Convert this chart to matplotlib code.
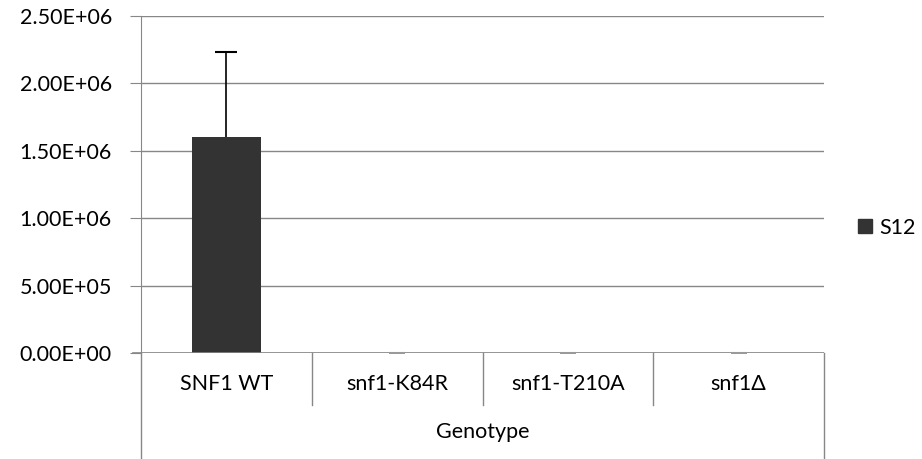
import matplotlib
matplotlib.use("Agg")
import matplotlib.pyplot as plt
from matplotlib.lines import Line2D
import numpy as np

categories = ["SNF1 WT", "snf1-K84R", "snf1-T210A", "snf1\u0394"]
values = [1.60e6, 1000, 1000, 1000]
errors = [0.635e6, 1000, 1000, 1000]
yticks = [0, 0.5e6, 1.0e6, 1.5e6, 2.0e6, 2.5e6]
ytick_labels = ["0.00E+00", "5.00E+05", "1.00E+06", "1.50E+06", "2.00E+06", "2.50E+06"]
series_name = "S12"
axis_title = "Genotype"

plt.rcParams['font.family'] = ['Lato', 'DejaVu Sans']
FS = 15.5
W, H = 922, 459
fig = plt.figure(figsize=(W/100, H/100), dpi=100)
L, R, T, B = 141, 824, 16, 353
ax = fig.add_axes([L/W, 1-B/H, (R-L)/W, (B-T)/H])

grid_c = "#878787"
x = np.arange(len(categories))
ax.bar(x, values, width=0.4, color="#333333", zorder=3)
for i in range(len(categories)):
    col = "black" if i == 0 else "#9a9a9a"
    cs = 8 if i == 0 else 6
    eb = ax.errorbar([x[i]], [values[i]], yerr=[[0], [errors[i]]], fmt='none',
                     ecolor=col, elinewidth=1.2, capsize=cs, capthick=1.5, zorder=6)
    eb[1][0].set_visible(False)
ax.set_xlim(-0.5, len(categories)-0.5)
ax.set_ylim(0, 2.5e6)
ax.set_yticks(yticks)
ax.set_yticklabels(ytick_labels, fontsize=FS)
ax.yaxis.grid(True, color=grid_c, linewidth=1, zorder=0)
for s in ["top", "right", "bottom"]:
    ax.spines[s].set_visible(False)
ax.spines["left"].set_color(grid_c)
ax.tick_params(axis='y', length=8, color=grid_c, pad=13)
ax.set_xticks([])
ax.axhline(0, color=grid_c, linewidth=1.2, zorder=5)
ax.plot([-0.5 - 8/170.75, -0.5], [0, 0], color=grid_c, lw=1.2, clip_on=False)

# category axis below
trans = ax.get_xaxis_transform()
for i in range(len(categories)+1):
    xb = i - 0.5
    if i == 0 or i == len(categories):
        y0 = -(H - B) / (B - T)
    else:
        y0 = -(405 - B) / (B - T)
    ax.plot([xb, xb], [0, y0], color=grid_c, lw=1, transform=trans, clip_on=False)
for i, c in enumerate(categories):
    ax.text(i, -(384 - B) / (B - T), c, transform=trans, ha='center', va='center', fontsize=FS)
ax.text((len(categories)-1)/2, -(432 - B) / (B - T), axis_title, transform=trans,
        ha='center', va='center', fontsize=FS)

# legend
handle = Line2D([], [], marker='s', color='none', markerfacecolor='#333333',
                markeredgecolor='#333333', markersize=10)
fig.legend([handle], [series_name], loc='center left', bbox_to_anchor=(856/W, 1-228/H),
           frameon=False, fontsize=FS, handlelength=0.8, handletextpad=0.3,
           borderpad=0, borderaxespad=0)

fig.savefig("out.png", dpi=100)
